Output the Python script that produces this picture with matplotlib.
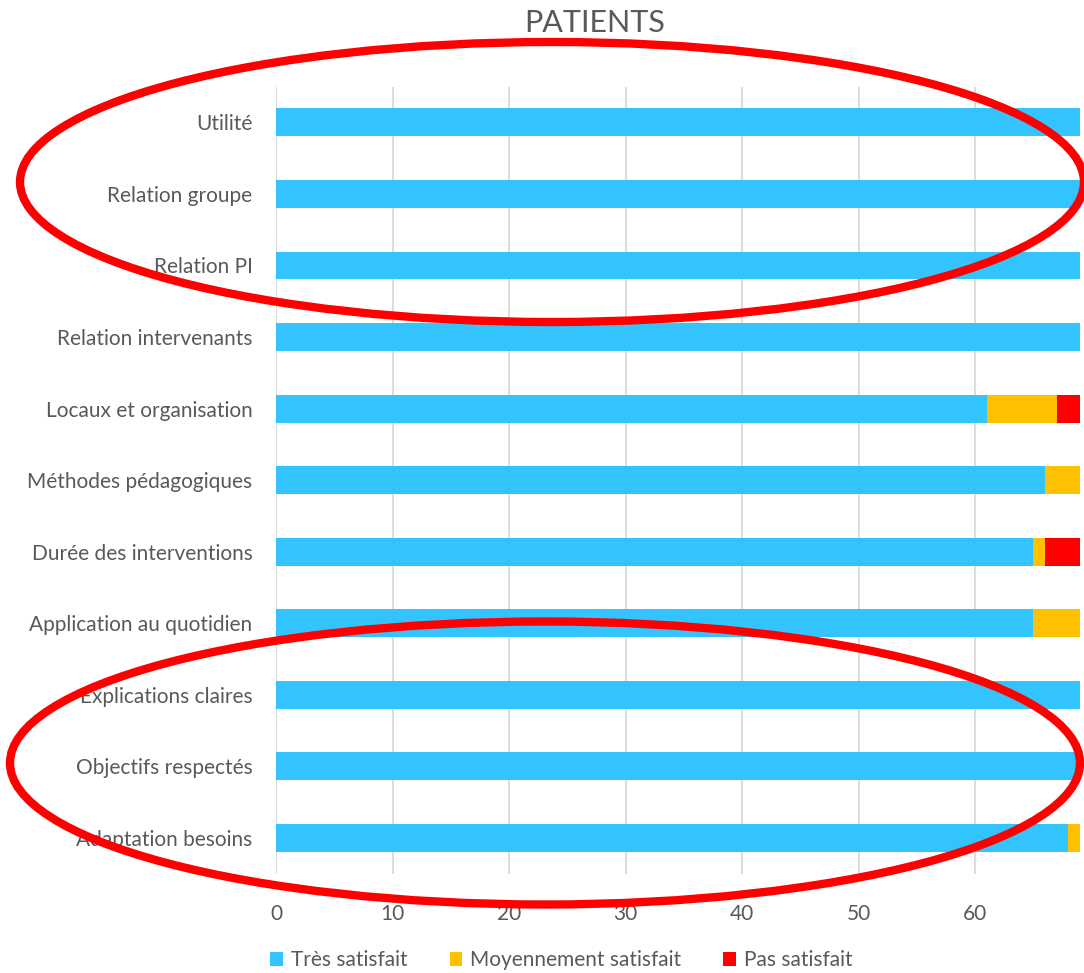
import matplotlib
matplotlib.use("Agg")
import matplotlib.pyplot as plt
from matplotlib.patches import Ellipse
import numpy as np

categories = ["Utilité", "Relation groupe", "Relation PI", "Relation intervenants",
              "Locaux et organisation", "Méthodes pédagogiques", "Durée des interventions",
              "Application au quotidien", "Explications claires", "Objectifs respectés",
              "Adaptation besoins"]
tres = [69, 69, 69, 69, 61, 66, 65, 65, 69, 69, 68]
moyen = [0, 0, 0, 0, 6, 3, 1, 4, 0, 0, 1]
pas = [0, 0, 0, 0, 2, 0, 3, 0, 0, 0, 0]
series_names = ["Très satisfait", "Moyennement satisfait", "Pas satisfait"]
colors = ["#33C3FF", "#FFC000", "#FF0000"]

plt.rcParams['font.family'] = ['Lato', 'DejaVu Sans']
grey = "#595959"

fig = plt.figure(figsize=(10.84, 9.73), dpi=100)
ax = fig.add_axes([0.2546, 0.102, 0.7417, 0.809])

y = np.arange(len(categories))
left = np.zeros(len(categories))
for vals, name, c in zip([tres, moyen, pas], series_names, colors):
    ax.barh(y, vals, left=left, height=0.39, color=c, label=name, zorder=3)
    left += np.array(vals)

ax.set_xlim(0, 69)
ax.set_ylim(len(categories) - 0.5, -0.5)
ax.set_yticks(y)
ax.set_yticklabels(categories)
ax.set_xticks(range(0, 70, 10))
ax.tick_params(length=0, labelsize=15, colors=grey)
ax.tick_params(axis='y', pad=17)
ax.tick_params(axis='x', pad=22)
ax.grid(axis='x', color="#D9D9D9", linewidth=1.3, zorder=0)
for s in ax.spines.values():
    s.set_visible(False)

fig.text(0.549, 0.976, "PATIENTS", ha='center', va='center', fontsize=22, color=grey)

handles, labels = ax.get_legend_handles_labels()
fig.legend(handles, labels, loc='center', bbox_to_anchor=(0.518, 0.013), ncol=3,
           frameon=False, fontsize=15, labelcolor=grey, handlelength=0.6,
           handleheight=0.7, handletextpad=0.4, columnspacing=2.0)

# red highlight rings drawn over the chart (pixel coordinates)
W, H = 1084, 973
for cx, cy, w, h in [(552, 182, 1064, 280), (545, 763, 1070, 283)]:
    e = Ellipse((cx / W, 1 - cy / H), w / W, h / H, transform=fig.transFigure,
                fill=False, edgecolor="#FF0000", linewidth=6, clip_on=False, zorder=10)
    fig.add_artist(e)

fig.savefig("out.png", dpi=100)
